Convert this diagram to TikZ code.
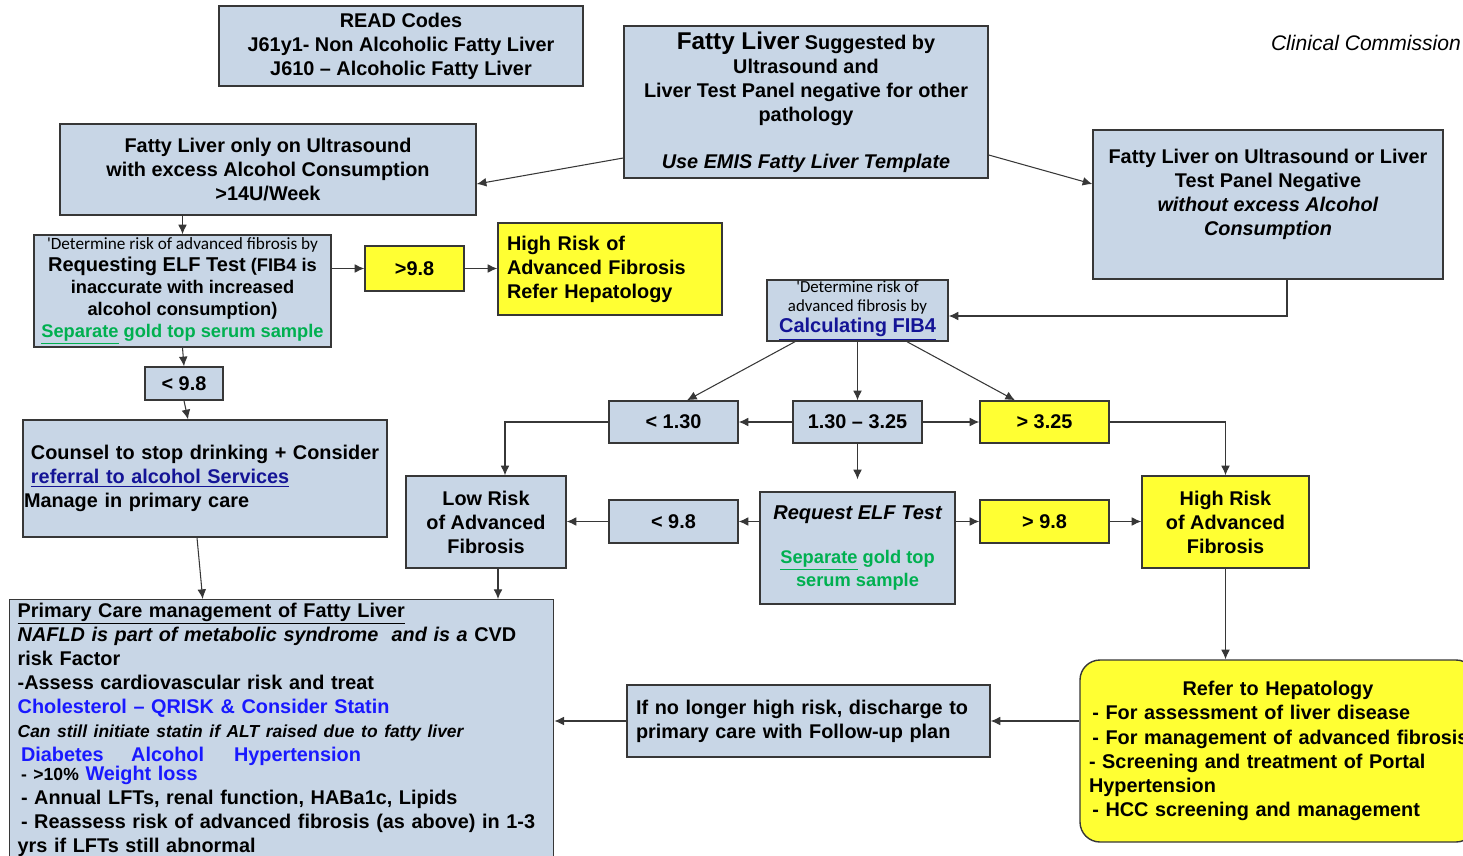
\documentclass[tikz,border=0pt]{standalone}
\usepackage{fontspec}
\setmainfont{Liberation Sans}
\newfontfamily\calfont{Carlito}
\usetikzlibrary{arrows.meta}

\definecolor{boxblue}{RGB}{200,214,230}
\definecolor{hiyellow}{RGB}{255,255,51}
\definecolor{linegrey}{RGB}{55,55,55}
\definecolor{goldgreen}{RGB}{0,176,80}
\definecolor{linkblue}{RGB}{20,20,150}
\definecolor{textblue}{RGB}{25,25,255}

\tikzset{
	box/.style={draw=linegrey, line width=0.8pt, fill=boxblue, inner sep=0pt, align=center,
		font=\bfseries\fontsize{11.3}{13.7}\selectfont},
	ybox/.style={box, fill=hiyellow},
	sz/.style 2 args={minimum width=#1*0.02cm, minimum height=#2*0.02cm},
	arr/.style={draw=linegrey, line width=0.6pt, -{Latex[length=5.5pt,width=5pt]}}
}

\begin{document}
\begin{tikzpicture}[x=0.02cm,y=-0.02cm]
	\useasboundingbox (0,0) rectangle (1463,855);

	% Top row
	\node[box, sz={364}{80}] (readcodes) at (401,46)
		{READ Codes\\ J61y1- Non Alcoholic Fatty Liver\\ J610 – Alcoholic Fatty Liver};
	\node[box, sz={364}{152}] (fattyliver) at (806,102)
		{{\fontsize{13.8}{13.7}\selectfont Fatty Liver} Suggested by\\ Ultrasound and\\
		 Liver Test Panel negative for other\\ pathology\\[13pt] \textit{Use EMIS Fatty Liver Template}};
	\node[anchor=east, font=\itshape\fontsize{12}{14}\selectfont] (ccg) at (1467,43) {Clinical Commission};

	% Left branch (alcohol)
	\node[box, sz={416}{91}] (alcohol) at (268,169.5)
		{Fatty Liver only on Ultrasound\\ with excess Alcohol Consumption\\ >14U/Week};
	\node[box, sz={297}{112}, font=\bfseries\fontsize{10.4}{12.5}\selectfont] (elfreq) at (182.5,291)
		{{\calfont\mdseries\fontsize{9.8}{12.5}\selectfont 'Determine risk of advanced fibrosis by}\\
		 {\fontsize{11.4}{12.5}\selectfont Requesting ELF Test} (FIB4 is\\ inaccurate with increased\\
		 alcohol consumption)\\ \textcolor{goldgreen}{\underline{Separate} gold top serum sample}};
	\node[ybox, sz={99}{45}] (gtA) at (414.5,268.5) {>9.8};
	\node[ybox, sz={224}{92}, text width=206*0.02cm, align=left] (hepref) at (610,269)
		{High Risk of\\ Advanced Fibrosis\\ Refer Hepatology};
	\node[box, sz={78}{33}] (ltA) at (184,383.5) {< 9.8};
	\node[box, sz={364}{117}, text width=348*0.02cm, align=left] (counsel) at (205,478.5)
		{Counsel to stop drinking + Consider\\ \textcolor{linkblue}{\underline{referral to alcohol Services}}\\
		 \hspace*{-0.14cm}Manage in primary care};

	% Right branch (no alcohol)
	\node[box, sz={350}{149}] (noalcohol) at (1268,204.5)
		{Fatty Liver on Ultrasound or Liver\\ Test Panel Negative\\ \textit{without excess Alcohol}\\
		 \textit{Consumption}\\ \mbox{}};
	\node[box, sz={181}{61}, font=\calfont\fontsize{9.6}{10.8}\selectfont] (fibfour) at (857.5,310.5)
		{'Determine risk of\\ advanced fibrosis by\\[1pt]
		 {\rmfamily\bfseries\fontsize{11.4}{12}\selectfont\color{linkblue}\underline{Calculating FIB4}}};
	\node[box, sz={129}{42}] (ltB) at (673.5,422) {< 1.30};
	\node[box, sz={129}{42}] (midB) at (857.5,422) {1.30 – 3.25};
	\node[ybox, sz={129}{42}] (gtB) at (1044.5,422) {> 3.25};
	\node[box, sz={160}{92}] (lowfib) at (486,522) {Low Risk\\ of Advanced\\ Fibrosis};
	\node[box, sz={129}{43}] (ltC) at (673.5,521.5) {< 9.8};
	\node[box, sz={195}{112}, font=\bfseries\fontsize{10.4}{13.2}\selectfont] (elftest) at (857.5,548)
		{{\itshape\fontsize{11.4}{13.2}\selectfont Request ELF Test}\\[11.5pt]
		 \textcolor{goldgreen}{\underline{Separate} gold top}\\ \textcolor{goldgreen}{serum sample}};
	\node[ybox, sz={129}{43}] (gtC) at (1044.5,521.5) {> 9.8};
	\node[ybox, sz={167}{92}] (highfib) at (1225.5,522) {High Risk\\ of Advanced\\ Fibrosis};

	% Bottom row
	\node[box, anchor=north west, text width=528*0.02cm, align=left, inner xsep=0.16cm, inner ysep=0.06cm]
		(primary) at (9,599)
		{\underline{Primary Care management of Fatty Liver}\\
		 \mbox{\textit{NAFLD is part of metabolic syndrome\ \ and is a} CVD}\\
		 risk Factor\\
		 -Assess cardiovascular risk and treat\\
		 \textcolor{textblue}{Cholesterol – QRISK \& Consider Statin}\\
		 \mbox{\itshape\fontsize{9.9}{13.7}\selectfont Can still initiate statin if ALT raised due to fatty liver}\\
		 \textcolor{textblue}{\,Diabetes\hspace{0.55cm}Alcohol\hspace{0.6cm}Hypertension}\\[-3pt]
		 \,{\fontsize{10}{13.7}\selectfont - >10\%} \textcolor{textblue}{Weight loss}\\
		 \,- Annual LFTs, renal function, HABa1c, Lipids\\
		 \mbox{\,- Reassess risk of advanced fibrosis (as above) in 1-3}\\
		 yrs if LFTs still abnormal\\ \mbox{}};
	\node[box, sz={363}{72}, text width=345*0.02cm, align=left] (discharge) at (808.5,721)
		{If no longer high risk, discharge to\\ primary care with Follow-up plan};
	\node[ybox, sz={396}{182}, rounded corners=0.4cm, text width=378*0.02cm, align=left] (refer) at (1278,751)
		{\makebox[7.56cm]{Refer to Hepatology}\\
		 \,- For assessment of liver disease\\
		 \mbox{\,- For management of advanced fibrosis}\\
		 - Screening and treatment of Portal\\
		 Hypertension\\
		 \,- HCC screening and management};

	% Arrows
	\draw[arr] ([yshift=-1.12cm]fattyliver.west) -- ([yshift=-0.29cm]alcohol.east);
	\draw[arr] ([yshift=-1.06cm]fattyliver.east) -- ([yshift=0.41cm]noalcohol.west);
	\draw[arr] (elfreq.north |- alcohol.south) -- (elfreq.north);
	\draw[arr] (gtA.west -| elfreq.east) -- (gtA.west);
	\draw[arr] (gtA.east) -- (gtA.east -| hepref.west);
	\draw[arr] (elfreq.south) -- (ltA.north);
	\draw[arr] (ltA.south) -- ([xshift=-0.34cm]counsel.north);
	\draw[arr] ([xshift=-0.16cm]counsel.south) -- ([xshift=-1.58cm]primary.north);

	\draw[arr] ([xshift=0.38cm]noalcohol.south) |- ([yshift=-0.11cm]fibfour.east);
	\draw[arr] ([xshift=-1.25cm]fibfour.south) -- ([xshift=0.27cm]ltB.north);
	\draw[arr] (fibfour.south) -- (midB.north);
	\draw[arr] ([xshift=0.99cm]fibfour.south) -- ([xshift=-0.59cm]gtB.north);
	\draw[arr] (midB.west) -- (ltB.east);
	\draw[arr] (midB.east) -- (gtB.west);
	\draw[arr] (ltB.west) -| ([xshift=0.38cm]lowfib.north);
	\draw[arr] (gtB.east) -| (highfib.north);
	\draw[arr, shorten >=0.24cm] (midB.south) -- (elftest.north);
	\draw[arr] (ltC.east -| elftest.west) -- (ltC.east);
	\draw[arr] (ltC.west) -- (ltC.west -| lowfib.east);
	\draw[arr] (gtC.west -| elftest.east) -- (gtC.west);
	\draw[arr] (gtC.east) -- (gtC.east -| highfib.west);

	\draw[arr] ([xshift=0.24cm]lowfib.south) -- ([xshift=0.24cm]lowfib.south |- primary.north);
	\draw[arr] (highfib.south) -- (highfib.south |- refer.north);
	\draw[arr] (discharge.east -| refer.west) -- (discharge.east);
	\draw[arr] (discharge.west) -- (discharge.west -| primary.east);
\end{tikzpicture}
\end{document}
